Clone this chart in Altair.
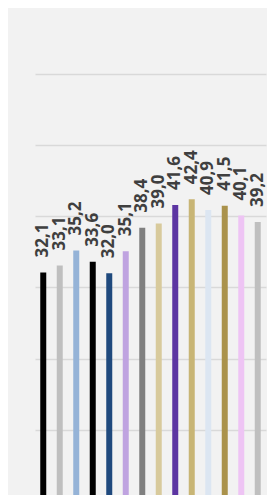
import altair as alt
import pandas as pd

categories = [f"c{i}" for i in range(1, 15)]
values = [32.1, 33.1, 35.2, 33.6, 32.0, 35.1, 38.4, 39.0, 41.6, 42.4, 40.9, 41.5, 40.1, 39.2]
colors = ["#000000", "#bfbfbf", "#95b3d7", "#000000", "#1f497d", "#bfa3e0", "#808080",
          "#d8ca9c", "#5c35a2", "#c8b575", "#dce6f2", "#aa924b", "#eec4f4", "#bfbfbf"]

df = pd.DataFrame({"cat": categories, "value": values, "color": colors})

x = alt.X("cat:N", sort=categories, axis=None,
          scale=alt.Scale(paddingInner=0, paddingOuter=0))
y = alt.Y("value:Q", axis=alt.Axis(grid=True, domain=False, ticks=False, labels=False,
                                   title=None, values=[0, 10, 20, 30, 40, 50, 60],
                                   gridColor="#d9d9d9", gridWidth=1.5),
          scale=alt.Scale(domain=[0.84, 60], nice=False, zero=False))

bars = alt.Chart(df).mark_bar(size=6).encode(
    x=x, y=y, y2=alt.datum(0), color=alt.Color("color:N", scale=None)
)

labels = alt.Chart(df).transform_calculate(
    lab="replace(format(datum.value, '.1f'), '.', ',')"
).mark_text(angle=270, align="left", baseline="middle", dx=15,
            font="Open Sans", fontSize=17, fontWeight="bold", color="#3f3f3f").encode(
    x=x, y=y, text="lab:N"
)

chart = (bars + labels).properties(
    width=231, height=421, background="#f2f2f2",
    autosize=alt.AutoSizeParams(type="none"),
    padding={"left": 27, "top": 66, "right": 1, "bottom": 0}
).configure_view(stroke=None)

chart.save("out.html", embed_options={"renderer": "svg", "actions": False})
